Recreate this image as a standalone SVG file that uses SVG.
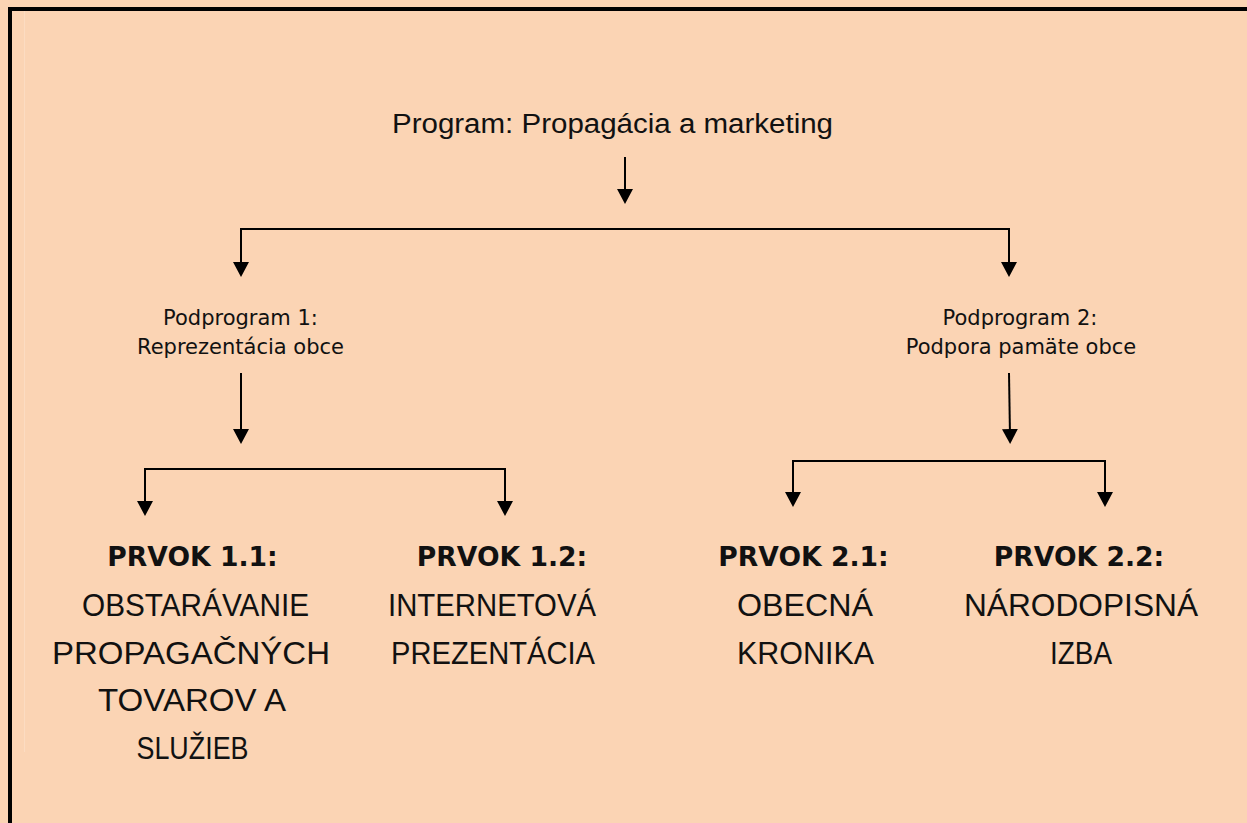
<svg xmlns="http://www.w3.org/2000/svg" width="1247" height="823" viewBox="0 0 1247 823">
<defs>
<style>
.bg{fill:#FBD4B4}
.frame{fill:#000000}
.title{font-family:"Liberation Sans",Arial,sans-serif;font-size:27px;fill:#111111;text-anchor:middle}
.sub{font-family:"DejaVu Sans",Verdana,sans-serif;font-size:21px;fill:#111111;text-anchor:middle}
.head{font-family:"DejaVu Sans",Verdana,sans-serif;font-size:26.6px;font-weight:bold;fill:#111111;text-anchor:middle}
.item{font-family:"Liberation Sans",Arial,sans-serif;font-size:32px;fill:#111111;text-anchor:middle}
.conn{fill:none;stroke:#000000;stroke-width:2}
</style>
<marker id="arrow" viewBox="0 0 15 16" refX="7" refY="8" markerWidth="15" markerHeight="16" markerUnits="userSpaceOnUse" orient="auto">
<path d="M0,0 L15,8 L0,16 Z" fill="#000000"/>
</marker>
</defs>
<rect class="bg" x="0" y="0" width="1247" height="823"/>
<rect class="frame" x="8" y="7" width="1239" height="4"/>
<rect class="frame" x="8" y="7" width="4" height="816"/>
<line x1="24.5" y1="11" x2="24.5" y2="752" stroke="#FCDCC2" stroke-width="1"/>

<g id="connectors">
<path class="conn" d="M625,157 V196" marker-end="url(#arrow)"/>
<path class="conn" d="M625,229 H241 V269" marker-end="url(#arrow)"/>
<path class="conn" d="M625,229 H1009 V269" marker-end="url(#arrow)"/>
<path class="conn" d="M241,373 V436" marker-end="url(#arrow)"/>
<path class="conn" d="M1009,373 L1010,436" marker-end="url(#arrow)"/>
<path class="conn" d="M325,469 H145 V508" marker-end="url(#arrow)"/>
<path class="conn" d="M325,469 H505 V508" marker-end="url(#arrow)"/>
<path class="conn" d="M949,461 H793 V499" marker-end="url(#arrow)"/>
<path class="conn" d="M949,461 H1105 V499" marker-end="url(#arrow)"/>
</g>

<g id="program">
<text class="title" x="612.5" y="133" textLength="441" lengthAdjust="spacingAndGlyphs">Program: Propagácia a marketing</text>
</g>

<g id="podprogram1">
<text class="sub" x="240.5" y="325">Podprogram 1:</text>
<text class="sub" x="240.5" y="354">Reprezentácia obce</text>
</g>

<g id="podprogram2">
<text class="sub" x="1020" y="325">Podprogram 2:</text>
<text class="sub" x="1021" y="354">Podpora pamäte obce</text>
</g>

<g id="prvok11">
<text class="head" x="192.5" y="566">PRVOK 1.1:</text>
<text class="item" x="195.5" y="615.7" textLength="227" lengthAdjust="spacingAndGlyphs">OBSTARÁVANIE</text>
<text class="item" x="191" y="663.6" textLength="278" lengthAdjust="spacingAndGlyphs">PROPAGAČNÝCH</text>
<text class="item" x="192" y="711" textLength="188" lengthAdjust="spacingAndGlyphs">TOVAROV A</text>
<text class="item" x="192.5" y="758.6" textLength="112" lengthAdjust="spacingAndGlyphs">SLUŽIEB</text>
</g>

<g id="prvok12">
<text class="head" x="502" y="566">PRVOK 1.2:</text>
<text class="item" x="492" y="615.7" textLength="208" lengthAdjust="spacingAndGlyphs">INTERNETOVÁ</text>
<text class="item" x="493" y="663.6" textLength="204" lengthAdjust="spacingAndGlyphs">PREZENTÁCIA</text>
</g>

<g id="prvok21">
<text class="head" x="803.5" y="566">PRVOK 2.1:</text>
<text class="item" x="805" y="615.7" textLength="136" lengthAdjust="spacingAndGlyphs">OBECNÁ</text>
<text class="item" x="805.5" y="663.6" textLength="137" lengthAdjust="spacingAndGlyphs">KRONIKA</text>
</g>

<g id="prvok22">
<text class="head" x="1079" y="566">PRVOK 2.2:</text>
<text class="item" x="1081" y="615.7" textLength="234" lengthAdjust="spacingAndGlyphs">NÁRODOPISNÁ</text>
<text class="item" x="1081" y="663.6" textLength="62" lengthAdjust="spacingAndGlyphs">IZBA</text>
</g>
</svg>
